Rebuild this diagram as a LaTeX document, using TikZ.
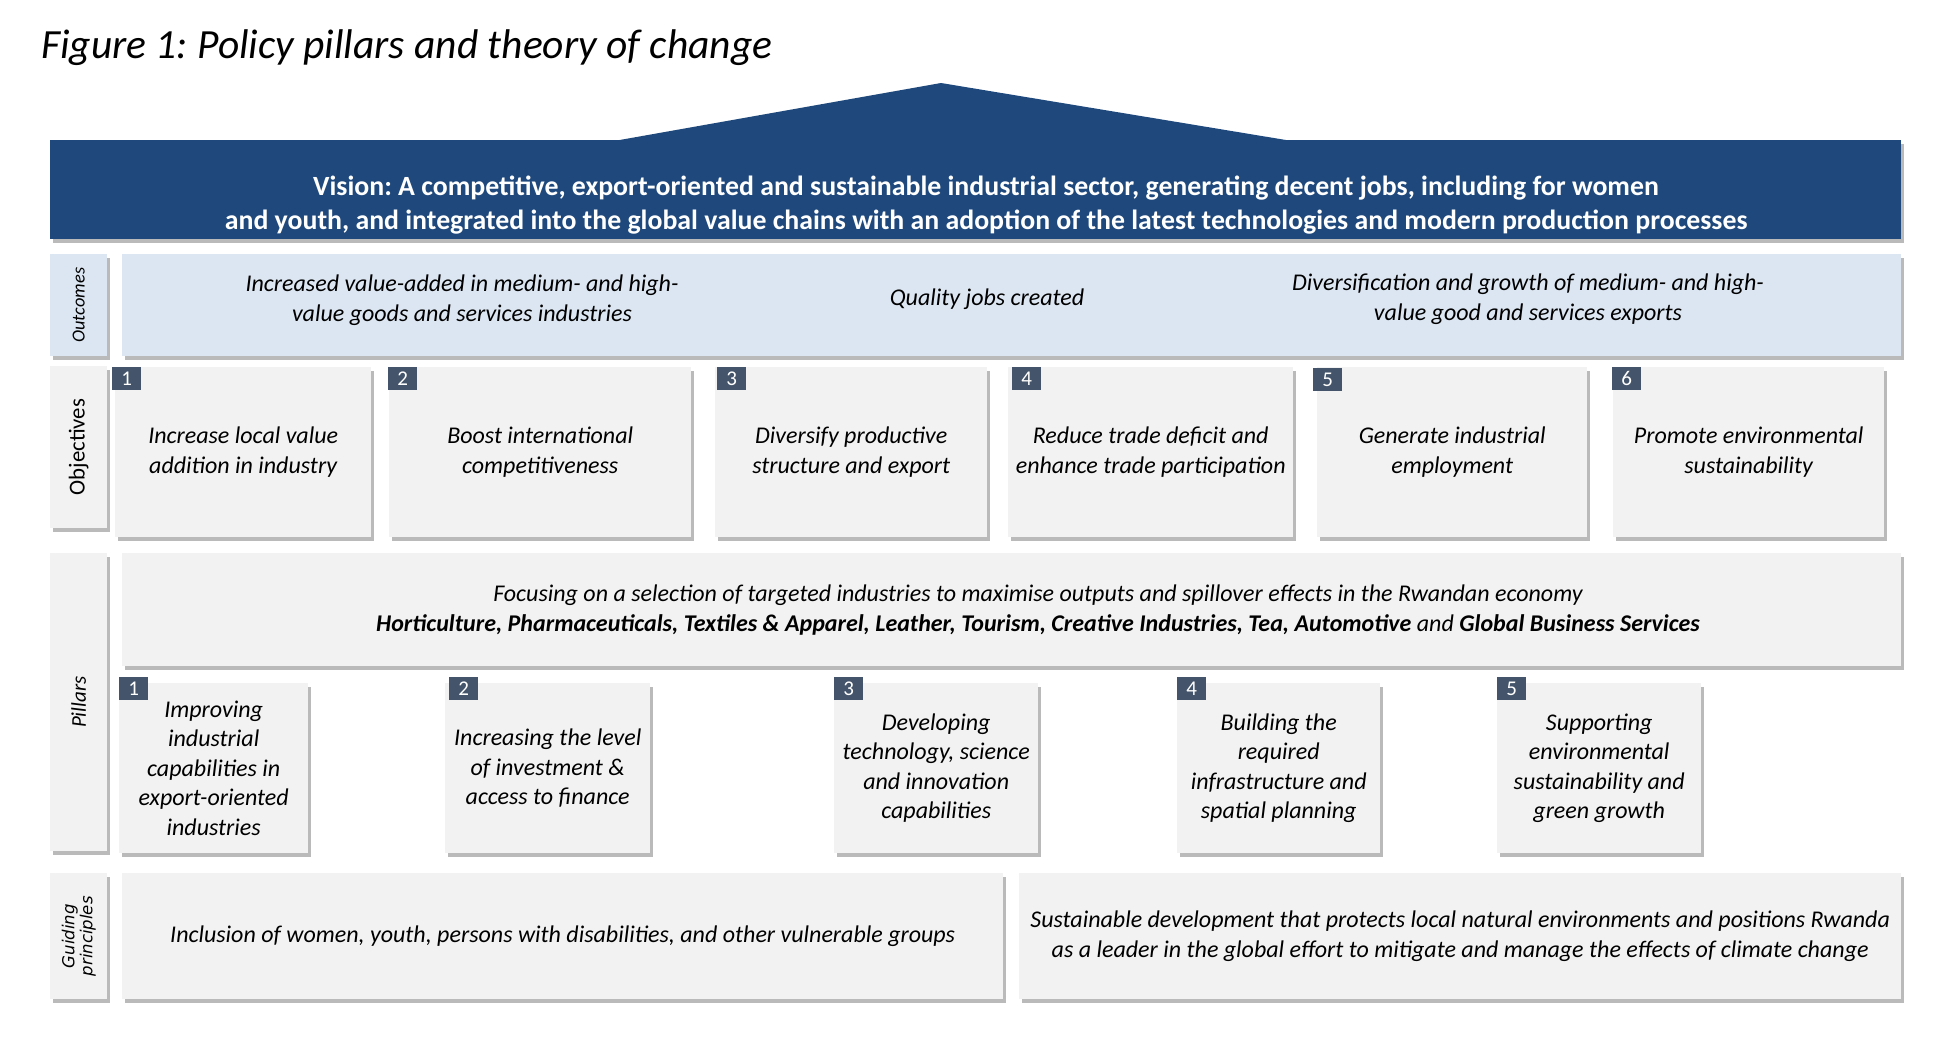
\documentclass[tikz,border=0pt]{standalone}
\usepackage{fontspec}
\setmainfont{Carlito}
\newfontfamily\guidefont{DejaVu Sans}
\usetikzlibrary{shadows}
\definecolor{visionblue}{RGB}{31,73,125}
\definecolor{outcomeblue}{RGB}{220,230,242}
\definecolor{boxgrey}{RGB}{242,242,242}
\definecolor{badgeslate}{RGB}{68,84,106}
\begin{document}
\frenchspacing
\begin{tikzpicture}[x=1pt,y=-1pt,
  every node/.style={inner sep=0pt,align=center},
  bodytext/.style={font=\fontsize{24}{29.5}\selectfont\itshape},
  panel/.style={fill=boxgrey,anchor=north west,
    drop shadow={shadow xshift=3pt,shadow yshift=-4pt,fill=black!60,opacity=.45}},
  bluepanel/.style={panel,fill=outcomeblue},
  sidelabel/.style={rotate=90},
  numbadge/.style={fill=badgeslate,text=white,anchor=north west,
    minimum width=29pt,minimum height=23pt,font=\fontsize{21}{21}\selectfont}]
\useasboundingbox (0,0) rectangle (1944,1045);
\node[anchor=west,font=\fontsize{41.5}{46}\selectfont\itshape] (title) at (41,48) {Figure 1: Policy pillars and theory of change};
\fill[visionblue] (614,141) -- (941,83) -- (1292,141) -- cycle;
\node[panel,fill=visionblue,minimum width=1851pt,minimum height=99pt] (vision) at (50,140) {};
\node[text=white,font=\fontsize{27.8}{33.5}\selectfont\bfseries] (visiontext) at (986,205)
  {Vision: A competitive, export-oriented and sustainable industrial sector, generating decent jobs, including for women\\
   and youth, and integrated into the global value chains with an adoption of the latest technologies and modern production processes};
\node[bluepanel,minimum width=57pt,minimum height=102pt] (outlab) at (50,254) {};
\node[sidelabel,font=\fontsize{18.4}{18.4}\selectfont\itshape] (outlabtext) at (outlab.center) {Outcomes};
\node[bluepanel,minimum width=1779pt,minimum height=102pt] (outbox) at (122,254) {};
\node[bodytext] (out1) at (462,300) {Increased value-added in medium- and high-\\value goods and services industries};
\node[bodytext] (out2) at (987,299) {Quality jobs created};
\node[bodytext] (out3) at (1528,299) {Diversification and growth of medium- and high-\\value good and services exports};
\node[panel,minimum width=57pt,minimum height=162pt] (objlab) at (50,366) {};
\node[sidelabel,font=\fontsize{22.8}{22.8}\selectfont] (objlabtext) at (objlab.center) {Objectives};
\node[panel,bodytext,minimum width=256pt,minimum height=170pt] (obj1) at (115,367) {Increase local value\\addition in industry};
\node[panel,bodytext,minimum width=302pt,minimum height=170pt] (obj2) at (389,367) {Boost international\\competitiveness};
\node[panel,bodytext,minimum width=272pt,minimum height=170pt] (obj3) at (715,367) {Diversify productive\\structure and export};
\node[panel,bodytext,minimum width=285pt,minimum height=170pt] (obj4) at (1008,367) {Reduce trade deficit and\\enhance trade participation};
\node[panel,bodytext,minimum width=270pt,minimum height=170pt] (obj5) at (1317,367) {Generate industrial\\employment};
\node[panel,bodytext,minimum width=271pt,minimum height=170pt] (obj6) at (1613,367) {Promote environmental\\sustainability};
\node[numbadge] (objnum1) at (112,367) {1};
\node[numbadge] (objnum2) at (388,367) {2};
\node[numbadge] (objnum3) at (717,367) {3};
\node[numbadge] (objnum4) at (1012,367) {4};
\node[numbadge] (objnum5) at (1313,368) {5};
\node[numbadge] (objnum6) at (1612,367) {6};
\node[panel,minimum width=57pt,minimum height=298pt] (pillab) at (50,553) {};
\node[sidelabel,font=\fontsize{21}{21}\selectfont\itshape] (pillabtext) at (pillab.center) {Pillars};
\node[panel,minimum width=1779pt,minimum height=113pt] (focus) at (122,553) {};
\node[bodytext] (focustext) at (1038,610)
  {Focusing on a selection of targeted industries to maximise outputs and spillover effects in the Rwandan economy\\
   \textbf{Horticulture, Pharmaceuticals, Textiles \& Apparel, Leather, Tourism, Creative Industries, Tea, Automotive} and \textbf{Global Business Services}};
\node[panel,bodytext,minimum width=189pt,minimum height=170pt] (pil1) at (119,683) {Improving\\industrial\\capabilities in\\export-oriented\\industries};
\node[panel,bodytext,minimum width=205pt,minimum height=170pt] (pil2) at (445,683) {Increasing the level\\of investment \&\\access to finance};
\node[panel,bodytext,minimum width=204pt,minimum height=170pt] (pil3) at (834,683) {Developing\\technology, science\\and innovation\\capabilities};
\node[panel,bodytext,minimum width=203pt,minimum height=170pt] (pil4) at (1177,683) {Building the\\required\\infrastructure and\\spatial planning};
\node[panel,bodytext,minimum width=204pt,minimum height=170pt] (pil5) at (1497,683) {Supporting\\environmental\\sustainability and\\green growth};
\node[numbadge] (pilnum1) at (119,677) {1};
\node[numbadge] (pilnum2) at (449,677) {2};
\node[numbadge] (pilnum3) at (834,677) {3};
\node[numbadge] (pilnum4) at (1177,677) {4};
\node[numbadge] (pilnum5) at (1497,677) {5};
\node[panel,minimum width=57pt,minimum height=126pt] (guidelab) at (50,873) {};
\node[sidelabel,font=\fontsize{16.5}{18}\selectfont\guidefont\itshape] (guidelabtext) at (guidelab.center) {Guiding\\principles};
\node[panel,bodytext,minimum width=881pt,minimum height=126pt] (guide1) at (122,873)
  {Inclusion of women, youth, persons with disabilities, and other vulnerable groups};
\node[panel,bodytext,minimum width=882pt,minimum height=126pt] (guide2) at (1019,873)
  {Sustainable development that protects local natural environments and positions Rwanda\\
   as a leader in the global effort to mitigate and manage the effects of climate change};
\end{tikzpicture}
\end{document}
